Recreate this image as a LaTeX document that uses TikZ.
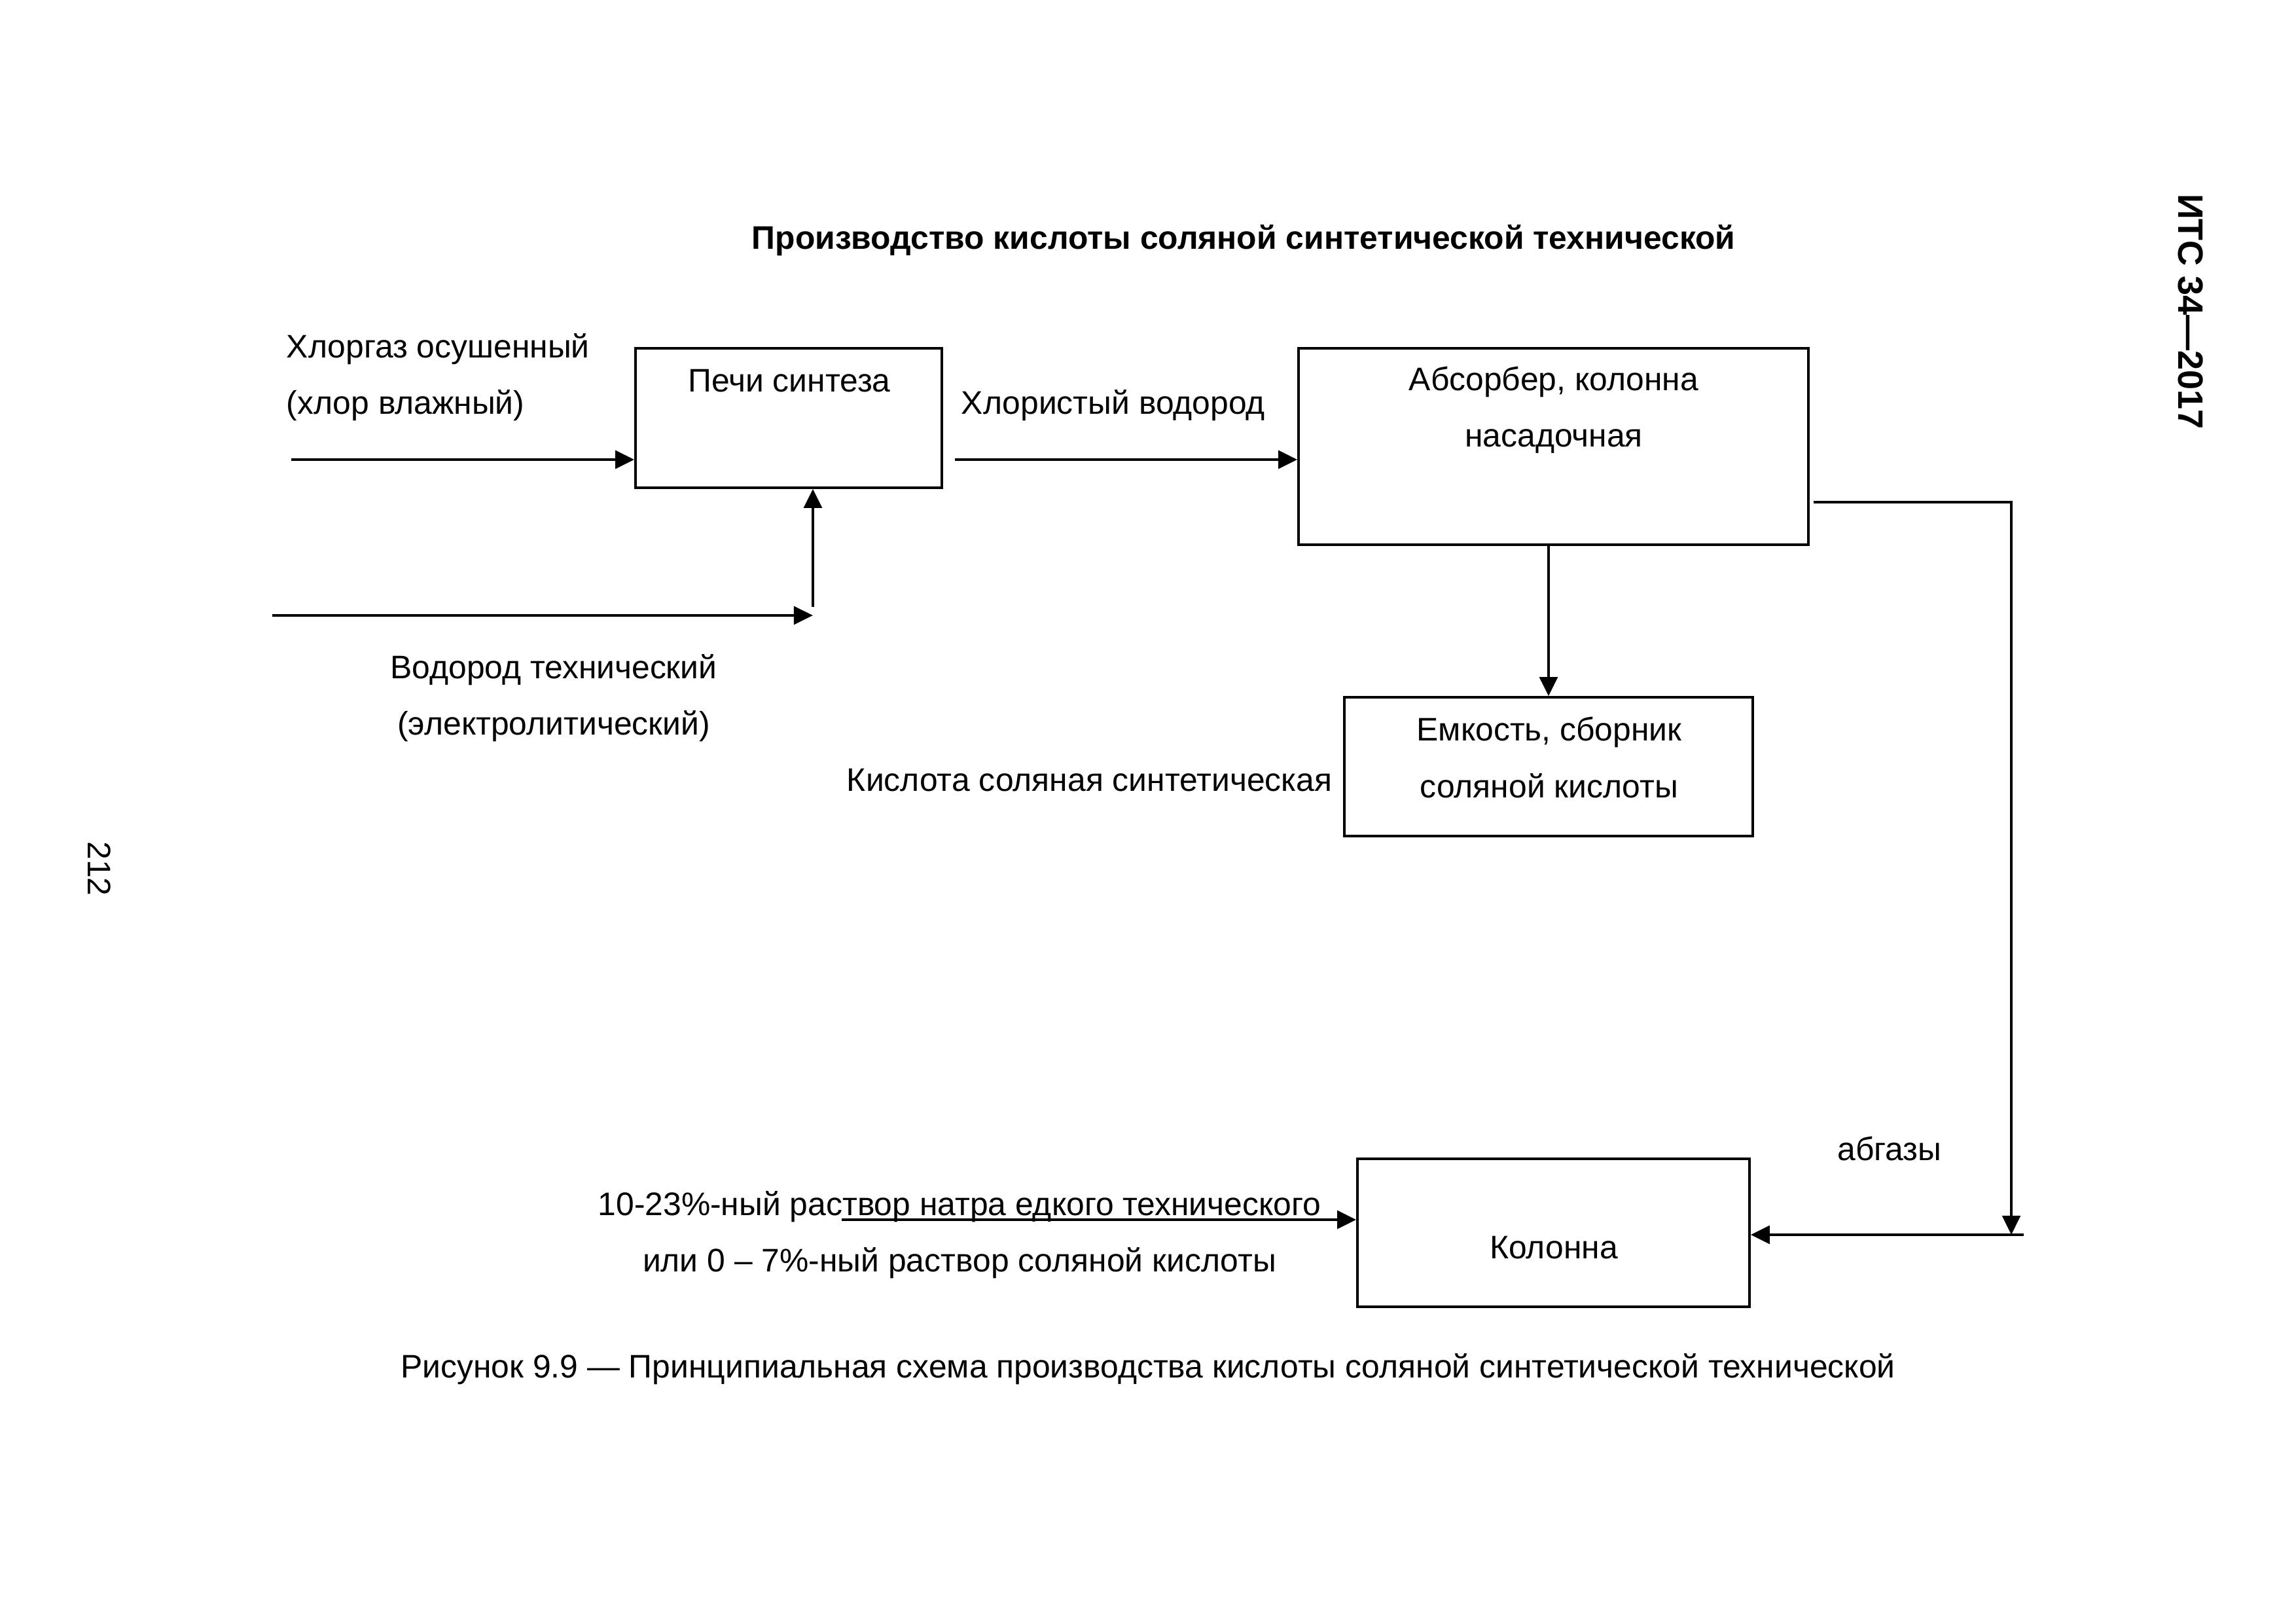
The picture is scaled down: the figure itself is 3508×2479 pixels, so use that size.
\documentclass[tikz,border=0pt]{standalone}
\usepackage{fontspec}
\setmainfont{Liberation Sans}
\usetikzlibrary{arrows.meta,positioning}

\begin{document}
\begin{tikzpicture}[x=0.2409pt, y=-0.2409pt, >={Triangle[length=7pt,width=6.6pt]},
	box/.style={draw, line width=0.9pt, inner sep=0pt},
	sz/.style 2 args={minimum width=#1*0.2409pt, minimum height=#2*0.2409pt},
	lbl/.style={font=\fontsize{12}{20.8}\selectfont, align=center, inner sep=0pt},
	flow/.style={line width=1.15pt, ->},
	gasline/.style={line width=0.95pt}]
	\useasboundingbox (0,0) rectangle (3508,2479);
	% колонтитулы
	\node[lbl, font=\bfseries\fontsize{13}{14}\selectfont, rotate=-90] (its) at (3347,476) {ИТС 34—2017};
	\node[lbl, rotate=-90] (page) at (152,1327) {212};
	\node[lbl, font=\bfseries\fontsize{12}{14}\selectfont] (title) at (1900,367) {Производство кислоты соляной синтетической технической};
	% аппараты
	\node[box, sz={468}{213}] (pechi) at (1205,638.5) {};
	\node[box, sz={779}{300}] (absorb) at (2373.5,682) {};
	\node[box, sz={624}{212}] (emk) at (2366,1171) {};
	\node[box, sz={599}{226}] (kolonna) at (2373.5,1883) {};
	\node[lbl] (pechi-t) at (1206,582) {Печи синтеза};
	\node[lbl] (absorb-t) at (2374,626) {Абсорбер, колонна\\насадочная};
	\node[lbl] (emk-t) at (2367,1157) {Емкость, сборник\\соляной кислоты};
	\node[lbl] (kolonna-t) at (2374,1906) {Колонна};
	% потоки
	\node[lbl, align=left, anchor=west] (chlor) at (437,576) {Хлоргаз осушенный\\(хлор влажный)};
	\node[lbl] (hydro) at (846,1066) {Водород технический\\(электролитический)};
	\node[lbl, anchor=west] (hcl) at (1468,619) {Хлористый водород};
	\node[lbl, anchor=east] (acid) at (2036,1192) {Кислота соляная синтетическая};
	\node[lbl] (abgas) at (2887,1754) {абгазы};
	\node[lbl] (naoh) at (1466,1886) {10-23\%-ный раствор натра едкого технического\\или 0 – 7\%-ный раствор соляной кислоты};
	\coordinate (cl-in) at (445,702);
	\coordinate (h2-in) at (416,940);
	\coordinate (h2-up) at (1242,927);
	\coordinate (hcl-out) at (1459,702);
	\coordinate (abg-a) at (2771,767);
	\coordinate (abg-b) at (3073,767);
	\coordinate (abg-c) at (3092,1886);
	\coordinate (naoh-in) at (1286,1863);
	\draw[flow] (cl-in) -- (cl-in -| pechi.west);
	\draw[flow] (h2-in) -- (h2-in -| h2-up);
	\draw[flow] (h2-up) -- (h2-up |- pechi.south);
	\draw[flow] (hcl-out) -- (hcl-out -| absorb.west);
	\draw[flow] (emk.north |- absorb.south) -- (emk.north);
	\draw[gasline, ->] (abg-a) -- (abg-b) -- (abg-b |- abg-c);
	\draw[flow] (abg-c) -- (abg-c -| kolonna.east);
	\draw[flow] (naoh-in) -- (naoh-in -| kolonna.west);
	% подпись
	\node[lbl] (caption) at (1754,2091) {Рисунок 9.9 — Принципиальная схема производства кислоты соляной синтетической технической};
\end{tikzpicture}
\end{document}
